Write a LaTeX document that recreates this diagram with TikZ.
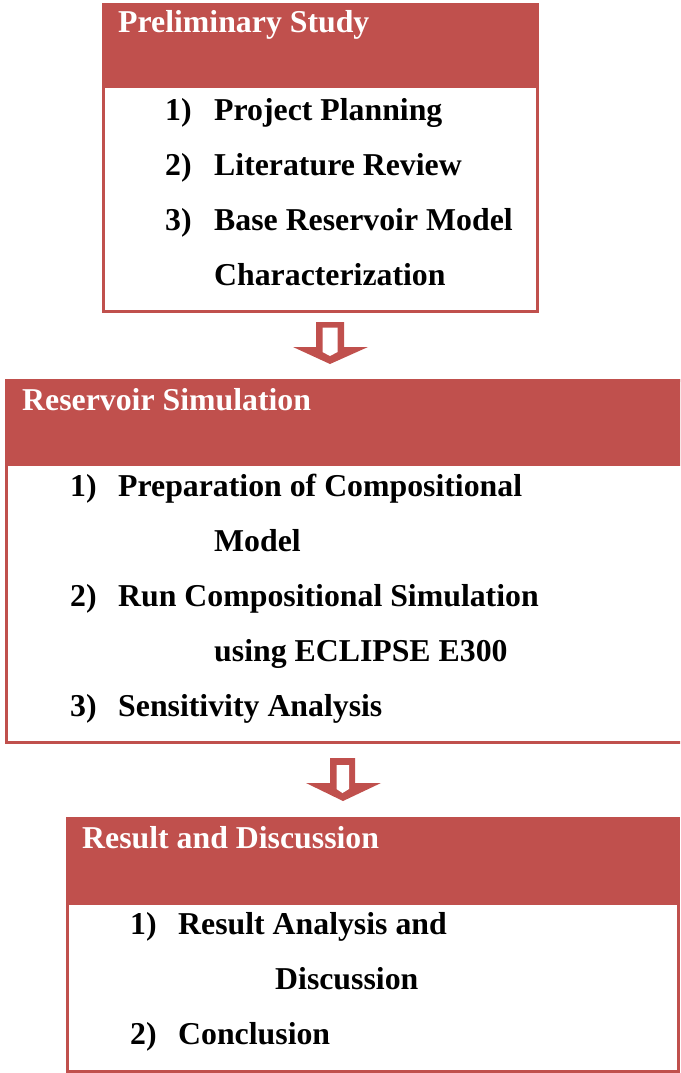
\documentclass[tikz,border=0pt]{standalone}
\usepackage{fontspec}
\setmainfont{Liberation Serif}
\definecolor{boxred}{HTML}{C0504D}
\begin{document}
\begin{tikzpicture}[x=1pt, y=-1pt,
        frame/.style={draw=boxred, line width=3pt},
        title/.style={anchor=base west, inner sep=0pt, text=white,
            font=\bfseries\fontsize{31.8}{38}\selectfont},
        entry/.style={anchor=base west, inner sep=0pt,
            font=\bfseries\fontsize{31.8}{38}\selectfont}]
    \useasboundingbox (0,0) rectangle (680,1073);
    \clip (0,0) rectangle (680,1073);

    % preliminary study
    \fill[boxred] (102,3) rectangle (539,88);
    \draw[frame] (103.5,4.5) rectangle (537.5,311.5);
    \node[title] (prelim) at (118,33) {Preliminary Study};
    \node[entry] (p1n) at (165,120) {1)};
    \node[entry] (p1) at (214,120) {Project Planning};
    \node[entry] (p2n) at (165,175) {2)};
    \node[entry] (p2) at (214,175) {Literature Review};
    \node[entry] (p3n) at (165,230) {3)};
    \node[entry] (p3) at (214,230) {Base Reservoir Model};
    \node[entry] (p3b) at (214,285) {Characterization};

    % arrow down
    \fill[boxred] (316,322) -- (344,322) -- (344,347) -- (368,347)
        -- (330,364) -- (293,347) -- (316,347) -- cycle;
    \fill[white] (322.5,327.5) -- (337.5,327.5) -- (337.5,352)
        -- (330,356) -- (322.5,352) -- cycle;

    % reservoir simulation
    \fill[boxred] (5,379) rectangle (690,466);
    \draw[frame] (6.5,380.5) rectangle (690,742.5);
    \node[title] (sim) at (22,410) {Reservoir Simulation};
    \node[entry] (s1n) at (70,496) {1)};
    \node[entry] (s1) at (118,496) {Preparation of Compositional};
    \node[entry] (s1b) at (214,551) {Model};
    \node[entry] (s2n) at (70,606) {2)};
    \node[entry] (s2) at (118,606) {Run Compositional Simulation};
    \node[entry] (s2b) at (214,661) {using ECLIPSE E300};
    \node[entry] (s3n) at (70,716) {3)};
    \node[entry] (s3) at (118,716) {Sensitivity Analysis};

    % arrow down
    \fill[boxred] (330,758) -- (355,758) -- (355,783) -- (381,783)
        -- (343,801) -- (306,783) -- (330,783) -- cycle;
    \fill[white] (336.5,765) -- (349,765) -- (349,789)
        -- (342.5,793) -- (336.5,789) -- cycle;

    % result and discussion
    \fill[boxred] (66,817) rectangle (680,905);
    \draw[frame] (67.5,818.5) rectangle (678.5,1071.5);
    \node[title] (res) at (82,848) {Result and Discussion};
    \node[entry] (r1n) at (130,934) {1)};
    \node[entry] (r1) at (178,934) {Result Analysis and};
    \node[entry] (r1b) at (275,989) {Discussion};
    \node[entry] (r2n) at (130,1044) {2)};
    \node[entry] (r2) at (178,1044) {Conclusion};
\end{tikzpicture}
\end{document}
